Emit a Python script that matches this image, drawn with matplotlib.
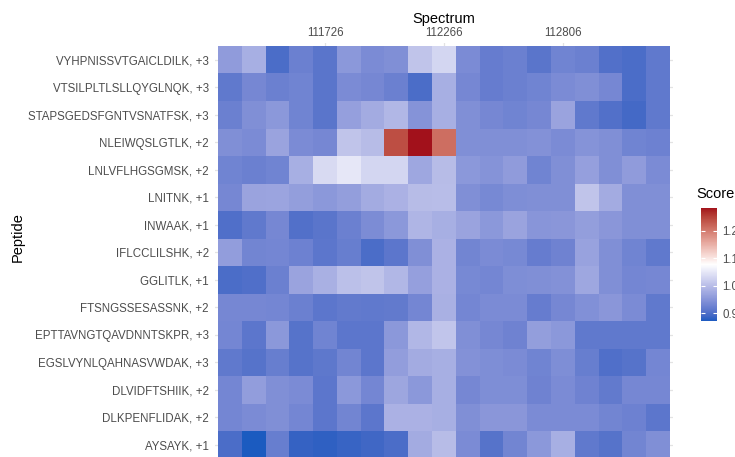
import numpy as np
import matplotlib
matplotlib.use('Agg')
import matplotlib.pyplot as plt
from matplotlib.colors import ListedColormap, Normalize, to_rgb

plt.rcParams['font.family'] = ['Liberation Sans', 'DejaVu Sans']

# Data
peptides = [
    'VYHPNISSVTGAICLDILK, +3', 'VTSILPLTLSLLQYGLNQK, +3', 'STAPSGEDSFGNTVSNATFSK, +3',
    'NLEIWQSLGTLK, +2', 'LNLVFLHGSGMSK, +2', 'LNITNK, +1', 'INWAAK, +1',
    'IFLCCLILSHK, +2', 'GGLITLK, +1', 'FTSNGSSESASSNK, +2', 'EPTTAVNGTQAVDNNTSKPR, +3',
    'EGSLVYNLQAHNASVWDAK, +3', 'DLVIDFTSHIIK, +2', 'DLKPENFLIDAK, +2', 'AYSAYK, +1',
]
spectra = ['111294', '111402', '111510', '111618', '111726', '111834', '111942', '112050',
           '112158', '112266', '112374', '112482', '112590', '112698', '112806', '112914',
           '113022', '113130', '113238']
shown_spectra = ['111726', '112266', '112806']

scores = np.array([
    [0.958, 0.983, 0.898, 0.923, 0.908, 0.953, 0.938, 0.943, 1.008, 1.029, 0.938, 0.918, 0.923, 0.908, 0.928, 0.923, 0.903, 0.898, 0.913],
    [0.913, 0.933, 0.923, 0.928, 0.908, 0.938, 0.933, 0.923, 0.897, 0.983, 0.933, 0.918, 0.923, 0.928, 0.938, 0.943, 0.933, 0.897, 0.913],
    [0.923, 0.943, 0.953, 0.928, 0.908, 0.963, 0.978, 0.993, 0.948, 0.983, 0.943, 0.933, 0.928, 0.933, 0.968, 0.913, 0.903, 0.892, 0.913],
    [0.943, 0.938, 0.968, 0.938, 0.933, 1.008, 0.998, 1.240, 1.282, 1.210, 0.943, 0.943, 0.943, 0.945, 0.938, 0.948, 0.943, 0.928, 0.925],
    [0.928, 0.923, 0.928, 0.983, 1.034, 1.050, 1.029, 1.029, 0.973, 0.998, 0.953, 0.948, 0.958, 0.928, 0.943, 0.963, 0.943, 0.958, 0.938],
    [0.933, 0.968, 0.970, 0.961, 0.953, 0.961, 0.978, 0.985, 0.998, 1.000, 0.943, 0.935, 0.941, 0.943, 0.942, 1.008, 0.978, 0.943, 0.943],
    [0.900, 0.913, 0.933, 0.903, 0.908, 0.923, 0.940, 0.953, 0.991, 0.983, 0.968, 0.953, 0.968, 0.950, 0.952, 0.961, 0.952, 0.943, 0.943],
    [0.960, 0.930, 0.931, 0.924, 0.910, 0.920, 0.898, 0.910, 0.943, 0.985, 0.930, 0.938, 0.935, 0.918, 0.926, 0.966, 0.943, 0.928, 0.913],
    [0.898, 0.900, 0.923, 0.968, 0.984, 1.003, 1.008, 0.993, 0.963, 0.985, 0.934, 0.932, 0.941, 0.943, 0.946, 0.973, 0.942, 0.931, 0.933],
    [0.933, 0.933, 0.931, 0.923, 0.910, 0.915, 0.913, 0.915, 0.931, 0.984, 0.931, 0.938, 0.938, 0.918, 0.933, 0.944, 0.952, 0.938, 0.913],
    [0.931, 0.910, 0.953, 0.906, 0.928, 0.910, 0.910, 0.954, 0.992, 1.010, 0.943, 0.933, 0.926, 0.962, 0.953, 0.913, 0.913, 0.913, 0.913],
    [0.913, 0.906, 0.920, 0.906, 0.912, 0.930, 0.910, 0.960, 0.978, 0.983, 0.946, 0.941, 0.938, 0.928, 0.941, 0.920, 0.900, 0.906, 0.931],
    [0.931, 0.960, 0.943, 0.938, 0.910, 0.953, 0.931, 0.971, 0.953, 0.983, 0.933, 0.941, 0.941, 0.926, 0.938, 0.926, 0.915, 0.933, 0.933],
    [0.931, 0.938, 0.943, 0.931, 0.910, 0.930, 0.910, 0.986, 0.986, 0.983, 0.943, 0.952, 0.952, 0.938, 0.938, 0.938, 0.930, 0.924, 0.910],
    [0.897, 0.871, 0.920, 0.883, 0.880, 0.884, 0.890, 0.897, 0.978, 0.998, 0.938, 0.906, 0.930, 0.954, 0.983, 0.913, 0.906, 0.930, 0.943],
])
score_ticks = [0.9, 1.0, 1.1, 1.2]


# Diverging palette interpolated in Lab space (like ggplot)
def to_lab(hexcol):
    c = np.array(to_rgb(hexcol))
    c = np.where(c > 0.04045, ((c + 0.055) / 1.055) ** 2.4, c / 12.92)
    m = np.array([[0.4124, 0.3576, 0.1805], [0.2126, 0.7152, 0.0722], [0.0193, 0.1192, 0.9505]])
    xyz = m @ c / np.array([0.95047, 1.0, 1.08883])
    f = np.where(xyz > 0.008856, np.cbrt(xyz), 7.787 * xyz + 16 / 116)
    return np.array([116 * f[1] - 16, 500 * (f[0] - f[1]), 200 * (f[1] - f[2])])


def from_lab(lab):
    fy = (lab[0] + 16) / 116
    f = np.array([fy + lab[1] / 500, fy, fy - lab[2] / 200])
    xyz = np.where(f ** 3 > 0.008856, f ** 3, (f - 16 / 116) / 7.787) * np.array([0.95047, 1.0, 1.08883])
    m = np.array([[3.2406, -1.5372, -0.4986], [-0.9689, 1.8758, 0.0415], [0.0557, -0.2040, 1.0570]])
    c = m @ xyz
    c = np.where(c > 0.0031308, 1.055 * np.clip(c, 0, None) ** (1 / 2.4) - 0.055, 12.92 * c)
    return np.clip(c, 0, 1)


low, mid, high = to_lab('#1B5BC0'), to_lab('#FFFFFF'), to_lab('#A3111B')
cols = []
for t in np.linspace(0, 1, 256):
    if t < 0.5:
        cols.append(from_lab(low + (mid - low) * t * 2))
    else:
        cols.append(from_lab(mid + (high - mid) * (t - 0.5) * 2))
cmap = ListedColormap(cols)
norm = Normalize(vmin=scores.min(), vmax=scores.max())

W, H = 735, 457
fig = plt.figure(figsize=(W / 100, H / 100), dpi=100)

# Heatmap panel (tiles from x=218..670, top at y=46, row height 27.5 px)
col_w = (670 - 218) / len(spectra)
row_h = 27.5
pad = 3
left, right = 218 - pad, 670 + pad
top = 46 - pad
bottom = 46 + row_h * len(peptides) + pad
ax = fig.add_axes([left / W, (H - bottom) / H, (right - left) / W, (bottom - top) / H])
ax.imshow(scores, cmap=cmap, norm=norm, aspect='auto', interpolation='nearest', zorder=2)
ax.set_xlim(-0.5 - pad / col_w, len(spectra) - 0.5 + pad / col_w)
ax.set_ylim(len(peptides) - 0.5 + pad / row_h, -0.5 - pad / row_h)

ax.xaxis.tick_top()
ax.set_xticks([spectra.index(s) for s in shown_spectra])
ax.set_xticklabels(shown_spectra)
ax.set_yticks(range(len(peptides)))
ax.set_yticklabels(peptides)
ax.tick_params(length=0, labelsize=8.3, labelcolor='#4d4d4d')
ax.tick_params(axis='x', pad=3)
ax.tick_params(axis='y', pad=4.5)
for s in ax.spines.values():
    s.set_visible(False)
ax.set_axisbelow(True)
ax.grid(color='#e3e3e3', lw=0.9)

fig.text(444 / W, 1 - 19 / H, 'Spectrum', ha='center', va='center', fontsize=10.5)
fig.text(18 / W, 1 - 237.5 / H, 'Peptide', ha='center', va='center', rotation=90, fontsize=10.5)

# Colour bar legend
cax = fig.add_axes([701 / W, (H - 321) / H, 16 / W, 113 / H])
cb = fig.colorbar(plt.cm.ScalarMappable(norm=norm, cmap=cmap), cax=cax, ticks=score_ticks)
cb.outline.set_visible(False)
cb.ax.tick_params(direction='in', color='white', length=3, width=0.8,
                  left=True, right=True, labelsize=8.3, labelcolor='#4d4d4d', pad=4)
cb.ax.set_yticklabels([f'{v:.1f}' for v in score_ticks])
fig.text(696 / W, 1 - 194 / H, 'Score', ha='left', va='center', fontsize=10.5)

fig.savefig('out.png', dpi=100)
